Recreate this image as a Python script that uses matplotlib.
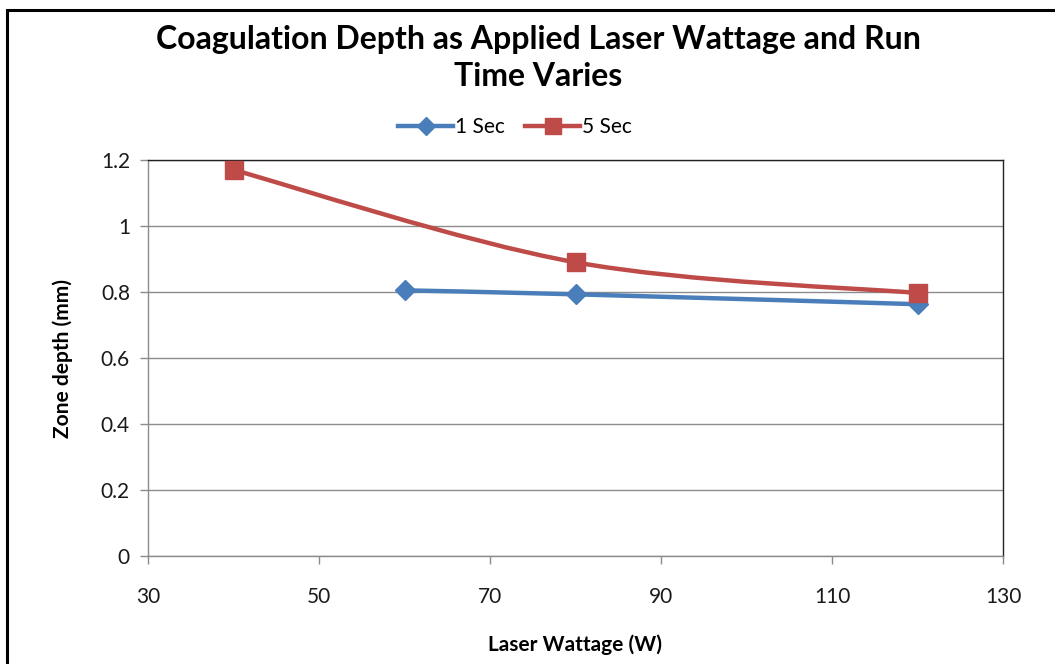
import numpy as np
import matplotlib
matplotlib.use("Agg")
import matplotlib.pyplot as plt
from matplotlib.path import Path
from matplotlib.patches import PathPatch, Rectangle
from matplotlib.lines import Line2D

# data
watts_1s = [60, 80, 120]
depth_1s = [0.805, 0.793, 0.763]
watts_5s = [40, 80, 120]
depth_5s = [1.17, 0.89, 0.797]

x_ticks = [30, 50, 70, 90, 110, 130]
y_ticks = [0, 0.2, 0.4, 0.6, 0.8, 1.0, 1.2]
y_tick_labels = ["0", "0.2", "0.4", "0.6", "0.8", "1", "1.2"]

title = "Coagulation Depth as Applied Laser Wattage and Run\nTime Varies"
blue = "#4a7ebb"
red = "#be4b48"
grid_col = "#8c8c8c"

plt.rcParams["font.family"] = ["Lato", "DejaVu Sans"]


def smooth_path(xs, ys):
    """Excel-like smoothed line: Catmull-Rom segments as cubic Beziers."""
    pts = np.column_stack([xs, ys]).astype(float)
    n = len(pts)
    verts = [pts[0]]
    codes = [Path.MOVETO]
    for i in range(n - 1):
        p0 = pts[i - 1] if i > 0 else pts[i]
        p1 = pts[i]
        p2 = pts[i + 1]
        p3 = pts[i + 2] if i + 2 < n else pts[i + 1]
        c1 = p1 + (p2 - p0) / 6.0
        c2 = p2 - (p3 - p1) / 6.0
        verts += [c1, c2, p2]
        codes += [Path.CURVE4] * 3
    return Path(verts, codes)


fig = plt.figure(figsize=(10.55, 6.64), dpi=100)
ax = fig.add_axes([148 / 1055, 108 / 664, 855 / 1055, 396 / 664])

for xs, ys, col, mk, ms in [(watts_1s, depth_1s, blue, "D", 10),
                            (watts_5s, depth_5s, red, "s", 13)]:
    ax.add_patch(PathPatch(smooth_path(xs, ys), facecolor="none",
                           edgecolor=col, lw=3.2, zorder=3,
                           capstyle="round", joinstyle="round"))
    ax.plot(xs, ys, linestyle="none", marker=mk, ms=ms, color=col, zorder=4)

ax.set_xlim(30, 130)
ax.set_ylim(0, 1.2)
ax.set_xticks(x_ticks)
ax.set_yticks(y_ticks)
ax.set_yticklabels(y_tick_labels)
ax.tick_params(axis="both", labelsize=15, colors=grid_col, labelcolor="#1a1a1a",
               length=6, width=1)
ax.tick_params(axis="x", pad=16)
ax.tick_params(axis="y", pad=7)
ax.yaxis.grid(True, color=grid_col, lw=1)
ax.set_axisbelow(True)

ax.spines["left"].set_color(grid_col)
ax.spines["bottom"].set_color(grid_col)
ax.spines["top"].set_color("#222222")
ax.spines["right"].set_color("#222222")
for s in ax.spines.values():
    s.set_linewidth(1)

ax.set_xlabel("Laser Wattage (W)", fontsize=15, fontweight="bold", labelpad=20)
ax.set_ylabel("Zone depth (mm)", fontsize=15, fontweight="bold", labelpad=20)

fig.text(538 / 1055, 1 - 58 / 664, title, ha="center", va="center",
         fontsize=23, fontweight="bold", linespacing=1.35)

handles = [Line2D([], [], color=blue, lw=3.2, marker="D", ms=9),
           Line2D([], [], color=red, lw=3.2, marker="s", ms=12)]
fig.legend(handles, ["1 Sec", "5 Sec"], loc="center",
           bbox_to_anchor=(515 / 1055, 1 - 127 / 664), ncol=2, frameon=False,
           fontsize=15, handlelength=2.6, handletextpad=0.1, columnspacing=1.0)

# outer chart frame (runs off the right and bottom edge)
fig.add_artist(Rectangle((7 / 1055, -0.05), 1.1, 1 - 10 / 664 + 0.05,
                         transform=fig.transFigure, fill=False,
                         edgecolor="black", lw=2.2))

fig.savefig("out.png", dpi=100)
